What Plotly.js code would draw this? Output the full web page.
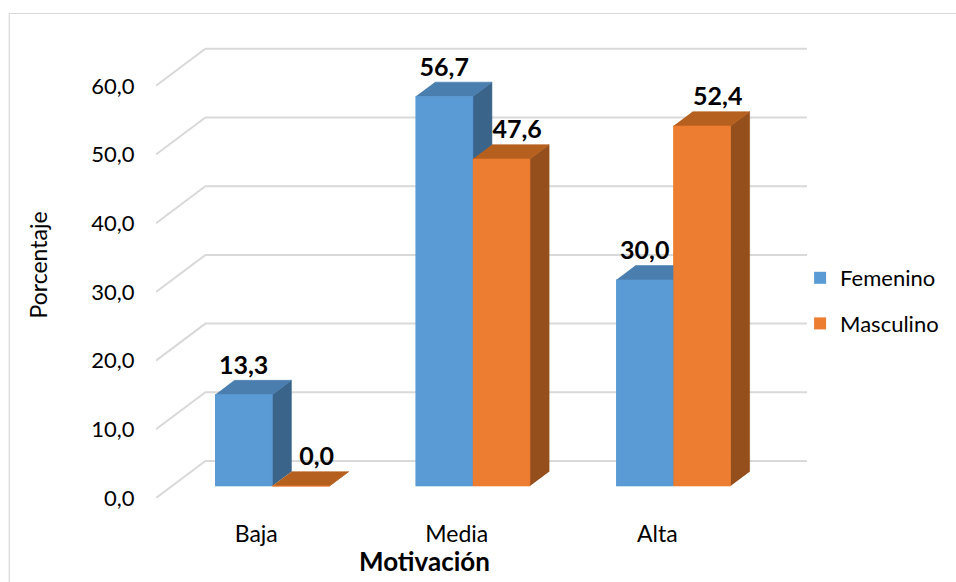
<!DOCTYPE html>
<html>
<head>
<meta charset="utf-8">
<script src="https://cdn.plot.ly/plotly-3.0.1.min.js"></script>
<style>
  html, body { margin: 0; padding: 0; background: #fff; }
  #chart { width: 956px; height: 582px; }
</style>
</head>
<body>
<div id="chart"></div>
<script>
// Motivación por sexo (porcentaje)
const categories = ['Baja', 'Media', 'Alta'];
const femenino = [13.3, 56.7, 30.0];
const masculino = [0.0, 47.6, 52.4];
const yTicks = [0, 10, 20, 30, 40, 50, 60];
const seriesNames = ['Femenino', 'Masculino'];

// ---- 3-D column look: oblique projection settings ----
const CAT_PX = 203;          // pixels per category
const UNIT_PX = 6.87;        // pixels per percentage point
const PLOT = { l: 156, t: 47, w: 659, h: 451 };
const X_RANGE = [-0.5, -0.5 + PLOT.w / CAT_PX];
const Y_RANGE = [0, PLOT.h / UNIT_PX];
const FLOOR_DX = 50, FLOOR_DY = 37;    // full depth of the floor, px
const BAR_D0 = 0.324, BAR_D1 = 0.711;  // column depth as a fraction of the floor
const BAR_W = 0.285;                   // column width in category units
const LABEL_SHIFT = 16 / CAT_PX;       // second-series value labels sit a bit to the right

function depth(d) { return [d * FLOOR_DX / CAT_PX, d * FLOOR_DY / UNIT_PX]; }
const [sx0, sy0] = depth(BAR_D0);
const [sx1, sy1] = depth(BAR_D1);
const [fx, fy] = depth(1);

const palette = [
  { front: '#5B9BD5', top: '#4A7EAF', side: '#3B648B' },
  { front: '#ED7D31', top: '#B6601F', side: '#954F1C' }
];

const fmt = v => v.toFixed(1).replace('.', ',');
const FAMILY = 'Lato, "Open Sans", sans-serif';

function faces(values, s) {
  const front = { x: [], y: [] }, top = { x: [], y: [] }, side = { x: [], y: [] };
  values.forEach((v, i) => {
    const xl = i - BAR_W + s * BAR_W, xr = xl + BAR_W;
    front.x.push(xl + sx0, xr + sx0, xr + sx0, xl + sx0, null);
    front.y.push(sy0, sy0, sy0 + v, sy0 + v, null);
    top.x.push(xl + sx0, xr + sx0, xr + sx1, xl + sx1, null);
    top.y.push(sy0 + v, sy0 + v, sy1 + v, sy1 + v, null);
    side.x.push(xr + sx0, xr + sx0, xr + sx1, xr + sx1, null);
    side.y.push(sy0, sy0 + v, sy1 + v, sy1, null);
  });
  const poly = (p, color) => ({
    type: 'scatter', mode: 'lines', x: p.x, y: p.y, fill: 'toself',
    fillcolor: color, line: { color: color, width: 0.6 },
    hoverinfo: 'skip', showlegend: false, legendgroup: seriesNames[s]
  });
  return [poly(side, palette[s].side), poly(top, palette[s].top), poly(front, palette[s].front)];
}

function legendBar(values, s) {
  return {
    type: 'bar', name: seriesNames[s], legendgroup: seriesNames[s],
    x: values.map((_, i) => i - BAR_W / 2 + s * BAR_W + sx0),
    y: values, base: sy0, width: BAR_W,
    marker: { color: palette[s].front, line: { width: 0 } },
    hovertemplate: '%{text}<extra>' + seriesNames[s] + '</extra>',
    text: values.map(fmt), textposition: 'none'
  };
}

function labels(values, s) {
  return {
    type: 'scatter', mode: 'text', showlegend: false, hoverinfo: 'skip',
    legendgroup: seriesNames[s],
    x: values.map((_, i) => i - BAR_W / 2 + s * BAR_W + sx0 + s * LABEL_SHIFT),
    y: values.map(v => v + sy1),
    text: values.map(fmt), textposition: 'top center', cliponaxis: false,
    textfont: { family: FAMILY, size: 25, color: '#000', weight: 700 }
  };
}

const data = [
  legendBar(femenino, 0), legendBar(masculino, 1),
  ...faces(femenino, 0), ...faces(masculino, 1),
  labels(femenino, 0), labels(masculino, 1)
];

// gridlines: short diagonal on the side wall, then along the back wall
const gridShapes = yTicks.map(v => ({
  type: 'path', xref: 'x', yref: 'y', layer: 'below',
  path: `M${X_RANGE[0]},${v} L${X_RANGE[0] + fx},${v + fy} L${X_RANGE[1]},${v + fy}`,
  line: { color: '#D9D9D9', width: 2 }
}));

const px2paperX = px => (px - PLOT.l) / PLOT.w;
const px2paperY = py => (PLOT.t + PLOT.h - py) / PLOT.h;

const font = { family: FAMILY, size: 22, color: '#000' };

const layout = {
  width: 956, height: 582,
  margin: { l: PLOT.l, r: 956 - PLOT.l - PLOT.w, t: PLOT.t, b: 582 - PLOT.t - PLOT.h, pad: 0 },
  paper_bgcolor: '#fff', plot_bgcolor: 'rgba(0,0,0,0)',
  separators: ',.',
  font: font,
  barmode: 'overlay',
  showlegend: true,
  legend: {
    x: px2paperX(808), y: px2paperY(301), xanchor: 'left', yanchor: 'middle',
    font: font, traceorder: 'grouped', tracegroupgap: 14, bgcolor: 'rgba(0,0,0,0)'
  },
  xaxis: {
    range: X_RANGE, fixedrange: true,
    tickvals: categories.map((_, i) => i), ticktext: categories,
    ticks: 'outside', ticklen: 15, tickcolor: 'rgba(0,0,0,0)',
    showgrid: false, zeroline: false, showline: false,
    tickfont: { family: FAMILY, size: 23, color: '#000' }
  },
  yaxis: {
    range: Y_RANGE, fixedrange: true,
    tickvals: yTicks, tickformat: '.1f',
    ticks: 'outside', ticklen: 16, tickcolor: 'rgba(0,0,0,0)',
    showgrid: false, zeroline: false, showline: false, tickfont: font
  },
  shapes: [
    {
      type: 'rect', xref: 'paper', yref: 'paper', layer: 'below',
      x0: px2paperX(7.5), x1: px2paperX(970), y0: px2paperY(600), y1: px2paperY(13.5),
      line: { color: '#D9D9D9', width: 1.2 }, fillcolor: 'rgba(0,0,0,0)'
    },
    ...gridShapes
  ],
  annotations: [
    {
      text: 'Motivación', xref: 'paper', yref: 'paper', showarrow: false,
      x: px2paperX(428), y: px2paperY(561), xanchor: 'center', yanchor: 'middle',
      font: { family: FAMILY, size: 26, color: '#000', weight: 700 }
    },
    {
      text: 'Porcentaje', xref: 'paper', yref: 'paper', showarrow: false, textangle: -90,
      x: px2paperX(37), y: px2paperY(265), xanchor: 'center', yanchor: 'middle',
      font: { family: FAMILY, size: 23, color: '#000' }
    }
  ]
};

Plotly.newPlot('chart', data, layout, { displayModeBar: false, staticPlot: true });
</script>
</body>
</html>
